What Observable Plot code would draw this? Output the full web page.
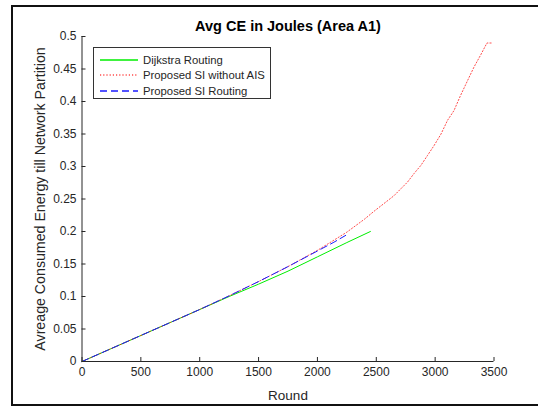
<!DOCTYPE html>
<html>
<head>
<meta charset="utf-8">
<script src="https://cdn.jsdelivr.net/npm/d3@7"></script>
<script src="https://cdn.jsdelivr.net/npm/@observablehq/plot@0.6"></script>
<style>
  html, body { margin: 0; padding: 0; background: #fff; overflow: hidden; }
  body { width: 538px; height: 407px; position: relative; font-family: "Liberation Sans", Arial, sans-serif; }
  #frame { position: absolute; left: 11px; top: 5px; width: 600px; height: 401px; box-sizing: border-box; border: 2px solid #111; border-right: none; }
  #chart { position: absolute; left: 0; top: 0; }
  #legend { position: absolute; left: 93px; top: 47px; width: 178px; height: 52px; box-sizing: border-box; border: 1px solid #333; background: #fff; }
</style>
</head>
<body>
<div id="frame"></div>
<div id="chart"></div>
<div id="legend"></div>
<script>
// ---- data ----
const seriesNames = ["Dijkstra Routing", "Proposed SI without AIS", "Proposed SI Routing"];

const dijkstraRound = [0, 250, 500, 750, 1000, 1250, 1500, 1750, 2000, 2250, 2450];
const dijkstraCE    = [0, 0.02, 0.04, 0.06, 0.08, 0.1, 0.119, 0.139, 0.161, 0.183, 0.2];

const noAisRound = [0, 250, 500, 750, 1000, 1250, 1500, 1750, 2000, 2250, 2310, 2400, 2480, 2565, 2650, 2710, 2765, 2820, 2880, 2935, 2990, 3050, 3105, 3160, 3215, 3275, 3330, 3385, 3440, 3485];
const noAisCE    = [0, 0.02, 0.04, 0.06, 0.08, 0.101, 0.123, 0.146, 0.171, 0.199, 0.207, 0.219, 0.231, 0.243, 0.255, 0.266, 0.276, 0.289, 0.302, 0.317, 0.332, 0.350, 0.371, 0.386, 0.409, 0.432, 0.453, 0.471, 0.490, 0.490];

const siRound = [0, 250, 500, 750, 1000, 1250, 1500, 1750, 2000, 2140, 2240];
const siCE    = [0, 0.02, 0.04, 0.06, 0.08, 0.101, 0.123, 0.146, 0.17, 0.1835, 0.194];

const xTicks = [0, 500, 1000, 1500, 2000, 2500, 3000, 3500];
const yTicks = [0, 0.05, 0.1, 0.15, 0.2, 0.25, 0.3, 0.35, 0.4, 0.45, 0.5];

const titleText = "Avg CE in Joules (Area A1)";
const xLabel = "Round";
const yLabel = "Avreage Consumed Energy till Network Partition";

// ---- styles ----
const styles = [
  {stroke: "#00ee00", strokeWidth: 1, strokeDasharray: "none", strokeOpacity: 1},
  {stroke: "#ff0000", strokeWidth: 1, strokeDasharray: "1.2 2", strokeOpacity: 0.7},
  {stroke: "#1a1aff", strokeWidth: 1, strokeDasharray: "7 4", strokeOpacity: 1}
];

const toRows = (xs, ys) => xs.map((x, i) => ({x, y: ys[i]}));
const dij = toRows(dijkstraRound, dijkstraCE);
const noAis = toRows(noAisRound, noAisCE);
const si = toRows(siRound, siCE);

const axisColor = "#262626";
const fmtY = d => d === 0 ? "0" : String(+d.toFixed(2));
const fmtX = d => String(d);

const plot = Plot.plot({
  width: 538,
  height: 407,
  marginLeft: 81.5,
  marginRight: 44.5,
  marginTop: 36,
  marginBottom: 46,
  style: {fontFamily: '"Liberation Sans", Arial, sans-serif', background: "transparent", overflow: "visible"},
  x: {domain: [0, 3500], ticks: xTicks},
  y: {domain: [0, 0.5], ticks: yTicks},
  marks: [
    Plot.line(dij, {x: "x", y: "y", ...styles[0]}),
    Plot.line(noAis, {x: "x", y: "y", ...styles[1]}),
    Plot.line(si, {x: "x", y: "y", ...styles[2]}),
    Plot.ruleY([0], {stroke: axisColor, strokeWidth: 1}),
    Plot.ruleX([0], {stroke: axisColor, strokeWidth: 1}),
    Plot.axisX({ticks: xTicks, tickSize: -4, tickPadding: 10, fontSize: 12, color: axisColor, stroke: axisColor, tickFormat: fmtX, label: null}),
    Plot.axisY({ticks: yTicks, tickSize: -4, tickPadding: 9.5, fontSize: 12, color: axisColor, stroke: axisColor, tickFormat: fmtY, label: null}),
    Plot.text([titleText], {frameAnchor: "top", dy: -5.5, text: d => d, fontSize: 14.5, fontWeight: "bold", fill: "#000", lineAnchor: "bottom"}),
    Plot.text([xLabel], {frameAnchor: "bottom", dy: 34, text: d => d, fontSize: 13.5, fill: axisColor, lineAnchor: "middle"}),
    Plot.text([yLabel], {frameAnchor: "left", dx: -41.5, text: d => d, fontSize: 14.2, fill: axisColor, rotate: -90, textAnchor: "middle", lineAnchor: "middle"})
  ]
});
document.getElementById("chart").appendChild(plot);

// ---- legend ----
const lg = d3.select("#legend").append("svg").attr("width", 176).attr("height", 50)
  .style("position", "absolute").style("left", "0").style("top", "0");
const rowsY = [12, 27, 43];
seriesNames.forEach((name, i) => {
  const s = styles[i];
  lg.append("path")
    .attr("d", `M6,${rowsY[i]}H44`)
    .style("fill", "none")
    .style("stroke", s.stroke)
    .style("stroke-width", "1.5")
    .style("stroke-opacity", String(s.strokeOpacity))
    .style("stroke-dasharray", s.strokeDasharray);
  lg.append("text").attr("x", 49).attr("y", rowsY[i]).attr("dy", "0.35em")
    .attr("font-size", 11.3).attr("fill", axisColor)
    .attr("font-family", '"Liberation Sans", Arial, sans-serif')
    .text(name);
});
</script>
</body>
</html>
